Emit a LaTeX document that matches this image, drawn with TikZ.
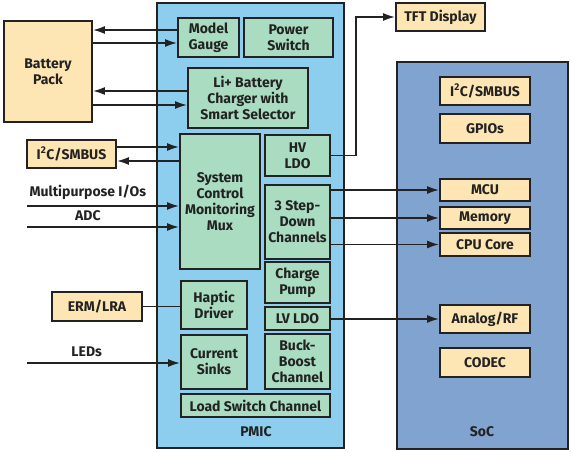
\documentclass[tikz,border=0pt]{standalone}
\usepackage{fontspec}
\setmainfont{Fira Sans}
\usetikzlibrary{arrows.meta,calc}
\definecolor{peach}{HTML}{FDE6B3}
\definecolor{mint}{HTML}{A9DCC1}
\definecolor{pmicblue}{HTML}{8DCDEE}
\definecolor{socblue}{HTML}{80A3CF}
\definecolor{ink}{HTML}{222222}
\begin{document}
\begin{tikzpicture}[x=1pt, y=-1pt,
    every node/.style={font=\fontsize{14}{16}\selectfont\bfseries, text=ink, align=center, inner sep=0pt},
    chip/.style={draw=ink, line width=1.8pt, rectangle},
    orbox/.style={chip, fill=peach},
    grbox/.style={chip, fill=mint},
    arr/.style={-{Latex[length=12pt, width=8pt]}, line width=1.8pt, draw=ink},
    wire/.style={line width=1.8pt, draw=ink}]
    \useasboundingbox (0,0) rectangle (571,451);
    % Big blocks
    \node[chip, fill=pmicblue, minimum width=187pt, minimum height=445pt] (pmic) at (250.5,225.5) {};
    \node[chip, fill=socblue, minimum width=171pt, minimum height=387pt] (soc) at (482.5,255.5) {};
    \node (pmiclabel) at (256,432) {PMIC};
    \node (soclabel) at (482,432) {SoC};
    % Outside parts
    \node[orbox, minimum width=88pt, minimum height=101pt] (battery) at (48,71.5) {Battery\\Pack};
    \node[orbox, minimum width=89pt, minimum height=28pt] (i2c) at (71.5,154) {I\textsuperscript{2}C/SMBUS};
    \node[orbox, minimum width=90pt, minimum height=29pt] (erm) at (97,306.5) {ERM/LRA};
    \node[orbox, minimum width=89pt, minimum height=28pt] (tft) at (440.5,17) {TFT Display};
    % PMIC parts
    \node[grbox, minimum width=61pt, minimum height=39pt] (gauge) at (208.5,37.5) {Model\\Gauge};
    \node[grbox, minimum width=89pt, minimum height=39pt] (pwrsw) at (288.5,37.5) {Power\\Switch};
    \node[grbox, minimum width=120pt, minimum height=60pt] (charger) at (248,98) {Li+ Battery\\Charger with\\Smart Selector};
    \node[grbox, minimum width=80pt, minimum height=135pt] (mux) at (220,201.5) {System\\Control\\Monitoring\\Mux};
    \node[grbox, minimum width=65pt, minimum height=41pt] (hvldo) at (297.5,155.5) {HV\\LDO};
    \node[grbox, minimum width=65pt, minimum height=74pt] (stepdown) at (297.5,222) {3 Step-\\Down\\Channels};
    \node[grbox, minimum width=65pt, minimum height=41pt] (chgpump) at (297.5,282.5) {Charge\\Pump};
    \node[grbox, minimum width=65pt, minimum height=23pt] (lvldo) at (297.5,318.5) {LV LDO};
    \node[grbox, minimum width=65pt, minimum height=55pt] (buckboost) at (297.5,361.5) {Buck-\\Boost\\Channel};
    \node[grbox, minimum width=66pt, minimum height=48pt] (haptic) at (214,305) {Haptic\\Driver};
    \node[grbox, minimum width=66pt, minimum height=54pt] (sinks) at (214,362) {Current\\Sinks};
    \node[grbox, minimum width=149pt, minimum height=23pt] (loadsw) at (255.5,405.5) {Load Switch Channel};
    % SoC parts
    \node[orbox, minimum width=90pt, minimum height=28pt] (socbus) at (485,91) {I\textsuperscript{2}C/SMBUS};
    \node[orbox, minimum width=90pt, minimum height=29pt] (gpio) at (485,128.5) {GPIOs};
    \node[orbox, minimum width=90pt, minimum height=22pt] (mcu) at (485,190) {MCU};
    \node[orbox, minimum width=90pt, minimum height=22pt] (memory) at (485,218) {Memory};
    \node[orbox, minimum width=90pt, minimum height=23pt] (cpu) at (485,244.5) {CPU Core};
    \node[orbox, minimum width=90pt, minimum height=28pt] (analog) at (485,319) {Analog/RF};
    \node[orbox, minimum width=90pt, minimum height=29pt] (codec) at (485,362.5) {CODEC};
    % Battery links
    \coordinate (g1) at ($(gauge.west)+(0,-7.5)$);
    \coordinate (g2) at ($(gauge.west)+(0,5.5)$);
    \coordinate (c1) at ($(charger.west)+(0,-7)$);
    \coordinate (c2) at ($(charger.west)+(0,7)$);
    \draw[arr] (g1) -- (g1 -| battery.east);
    \draw[arr] (g2 -| battery.east) -- (g2);
    \draw[arr] (c1) -- (c1 -| battery.east);
    \draw[arr] (c2 -| battery.east) -- (c2);
    % Mux inputs
    \coordinate (m1) at (mux.west |- 0,147);
    \coordinate (m2) at (mux.west |- 0,161);
    \coordinate (ioin) at (27,206);
    \coordinate (adcin) at (27,227);
    \coordinate (ledin) at (27,363);
    \draw[arr] (m1 -| i2c.east) -- (m1);
    \draw[arr] (m2) -- (m2 -| i2c.east);
    \draw[arr] (ioin) -- (ioin -| mux.west) node[pos=0.4, above=5pt] (iolabel) {Multipurpose I/Os};
    \draw[arr] (adcin) -- (adcin -| mux.west) node[pos=0.4, above=5pt] (adclabel) {ADC};
    \draw[wire] (erm.east) -- (erm.east -| haptic.west);
    \draw[arr] (ledin) -- (ledin -| sinks.west) node[pos=0.39, above=5pt] (ledlabel) {LEDs};
    % Supply rails
    \coordinate (tftbend) at (356,17);
    \draw[arr] (hvldo.east) -- (hvldo.east -| tftbend) |- (tft.west);
    \draw[arr] (mcu.west -| stepdown.east) -- (mcu.west);
    \draw[arr] (memory.west -| stepdown.east) -- (memory.west);
    \draw[arr] (cpu.west -| stepdown.east) -- (cpu.west);
    \draw[arr] (analog.west -| lvldo.east) -- (analog.west);
\end{tikzpicture}
\end{document}
